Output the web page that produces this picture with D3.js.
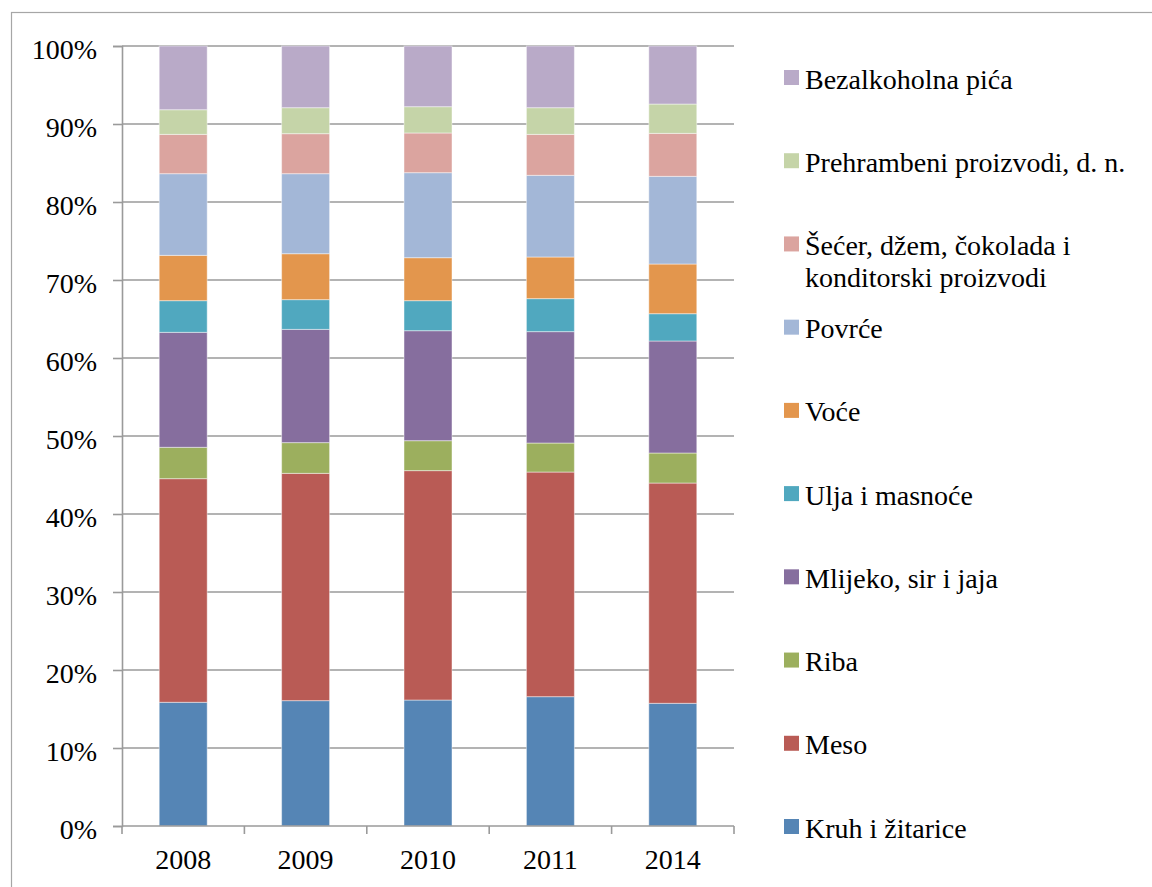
<!DOCTYPE html>
<html lang="hr">
	<head>
		<meta charset="utf-8">
		<title>Struktura izdataka za hranu</title>
		<style>
			body { margin: 0; background: #fff; }
			svg text { font-family: "Liberation Serif", "DejaVu Serif", serif !important; font-size: 28px !important; fill: #000; }
			.frame { fill: none; stroke: #a6a6a6; stroke-width: 1.2px; }
			.grid line, .axis line, .axis path { stroke: #9a9a9a; stroke-width: 1.6px; }
			.axis path { fill: none; }
			.seg { stroke: rgba(255,255,255,0.45); stroke-width: 1px; }
		</style>
	</head>
	<body>
		<div id="graphic"></div>

		<script src="https://cdnjs.cloudflare.com/ajax/libs/d3/7.8.5/d3.min.js"></script>
		<script>
			// categories
			var years = ['2008', '2009', '2010', '2011', '2014'];

			// series, bottom to top (share of food spending, %)
			var series = [
				'Kruh i žitarice',
				'Meso',
				'Riba',
				'Mlijeko, sir i jaja',
				'Ulja i masnoće',
				'Voće',
				'Povrće',
				'Šećer, džem, čokolada i konditorski proizvodi',
				'Prehrambeni proizvodi, d. n.',
				'Bezalkoholna pića'
			];

			var kruh      = [15.86, 16.07, 16.15, 16.58, 15.73];
			var meso      = [28.67, 29.14, 29.41, 28.80, 28.24];
			var riba      = [ 4.02,  3.94,  3.84,  3.72,  3.85];
			var mlijeko   = [14.74, 14.52, 14.10, 14.28, 14.36];
			var ulja      = [ 4.06,  3.81,  3.85,  4.23,  3.50];
			var voce      = [ 5.81,  5.89,  5.51,  5.34,  6.37];
			var povrce    = [10.47, 10.26, 10.90, 10.47, 11.24];
			var secer     = [ 5.04,  5.13,  5.09,  5.25,  5.51];
			var prehrana  = [ 3.16,  3.33,  3.37,  3.42,  3.76];
			var pica      = [ 8.17,  7.91,  7.78,  7.91,  7.44];

			var values = [kruh, meso, riba, mlijeko, ulja, voce, povrce, secer, prehrana, pica];

			var colors = ['#5585b5', '#b95b55', '#9caf5e', '#866e9e', '#50a8bf',
			              '#e3964d', '#a3b7d7', '#dba49f', '#c5d4a8', '#b9aac8'];

			// legend labels (multi-line where the original wraps)
			var legendLines = {
				'Šećer, džem, čokolada i konditorski proizvodi': ['Šećer, džem, čokolada i', 'konditorski proizvodi']
			};

			var width = 1152,
			    height = 887,
			    plotLeft = 122,
			    plotRight = 734,
			    plotTop = 46,
			    plotBottom = 826;

			var rows = years.map(function(y, i) {
				var r = { year: y };
				series.forEach(function(s, j) { r[s] = values[j][i]; });
				return r;
			});

			var stacked = d3.stack()
			                .keys(series)
			                .offset(d3.stackOffsetExpand)(rows);

			var x = d3.scaleBand()
			          .domain(years)
			          .range([plotLeft, plotRight])
			          .paddingInner(0.608)
			          .paddingOuter(0.304);

			var y = d3.scaleLinear()
			          .domain([0, 1])
			          .range([plotBottom, plotTop]);

			var color = d3.scaleOrdinal().domain(series).range(colors);

			var svg = d3.select('#graphic')
			            .append('svg')
			            .attr('width', width)
			            .attr('height', height);

			svg.append('rect')
			   .attr('width', width)
			   .attr('height', height)
			   .attr('fill', '#fff');

			svg.append('rect')
			   .classed('frame', true)
			   .attr('x', 11.5)
			   .attr('y', 12.5)
			   .attr('width', 1300)
			   .attr('height', 1000);

			// gridlines
			svg.append('g')
			   .classed('grid', true)
			   .selectAll('line')
			   .data(y.ticks(10).filter(function(d) { return d > 0; }))
			   .enter()
			   .append('line')
			   .attr('x1', plotLeft)
			   .attr('x2', plotRight)
			   .attr('y1', function(d) { return y(d); })
			   .attr('y2', function(d) { return y(d); });

			// bars
			svg.append('g')
			   .selectAll('g')
			   .data(stacked)
			   .enter()
			   .append('g')
			   .attr('fill', function(d) { return color(d.key); })
			   .selectAll('rect')
			   .data(function(d) { return d; })
			   .enter()
			   .append('rect')
			   .classed('seg', true)
			   .attr('x', function(d) { return x(d.data.year); })
			   .attr('width', x.bandwidth())
			   .attr('y', function(d) { return y(d[1]); })
			   .attr('height', function(d) { return y(d[0]) - y(d[1]); });

			// y axis
			var yAxis = svg.append('g')
			   .classed('axis', true)
			   .attr('transform', 'translate(' + plotLeft + ',0)')
			   .call(d3.axisLeft(y)
			           .ticks(10)
			           .tickSize(9)
			           .tickPadding(16)
			           .tickFormat(d3.format('.0%')));
			yAxis.attr('font-family', null).attr('font-size', null);
			yAxis.selectAll('text')
			     .attr('dy', '12px')
			     .style('font-family', '"Liberation Serif", serif')
			     .style('font-size', '28px');

			// x axis: baseline with ticks at category boundaries
			var xAxis = svg.append('g')
			   .classed('axis', true)
			   .attr('transform', 'translate(0,' + plotBottom + ')');

			xAxis.append('line')
			     .attr('x1', plotLeft)
			     .attr('x2', plotRight);

			var bounds = years.map(function(d) { return x(d) - x.step() * x.paddingInner() / 2; })
			                  .concat([plotRight]);

			xAxis.selectAll('.tick')
			     .data(bounds)
			     .enter()
			     .append('line')
			     .attr('x1', function(d) { return d; })
			     .attr('x2', function(d) { return d; })
			     .attr('y1', 0)
			     .attr('y2', 8);

			xAxis.selectAll('text')
			     .data(years)
			     .enter()
			     .append('text')
			     .attr('x', function(d) { return x(d) + x.bandwidth() / 2; })
			     .attr('y', 43)
			     .attr('text-anchor', 'middle')
			     .text(function(d) { return d; });

			// legend, top to bottom
			var legendOrder = series.slice().reverse();
			var ly = d3.scalePoint()
			           .domain(legendOrder)
			           .range([77.5, 826.5]);

			var legend = svg.append('g')
			   .selectAll('g')
			   .data(legendOrder)
			   .enter()
			   .append('g')
			   .attr('transform', function(d) { return 'translate(784,' + ly(d) + ')'; });

			legend.append('rect')
			      .attr('x', 0)
			      .attr('y', -7.5)
			      .attr('width', 15)
			      .attr('height', 15)
			      .attr('fill', function(d) { return color(d); });

			legend.append('text')
			      .attr('x', 21)
			      .attr('y', 11)
			      .selectAll('tspan')
			      .data(function(d) { return legendLines[d] || [d]; })
			      .enter()
			      .append('tspan')
			      .attr('x', 21)
			      .attr('dy', function(d, i) { return i ? 31.7 : 0; })
			      .text(function(d) { return d; });
		</script>
	</body>
</html>
